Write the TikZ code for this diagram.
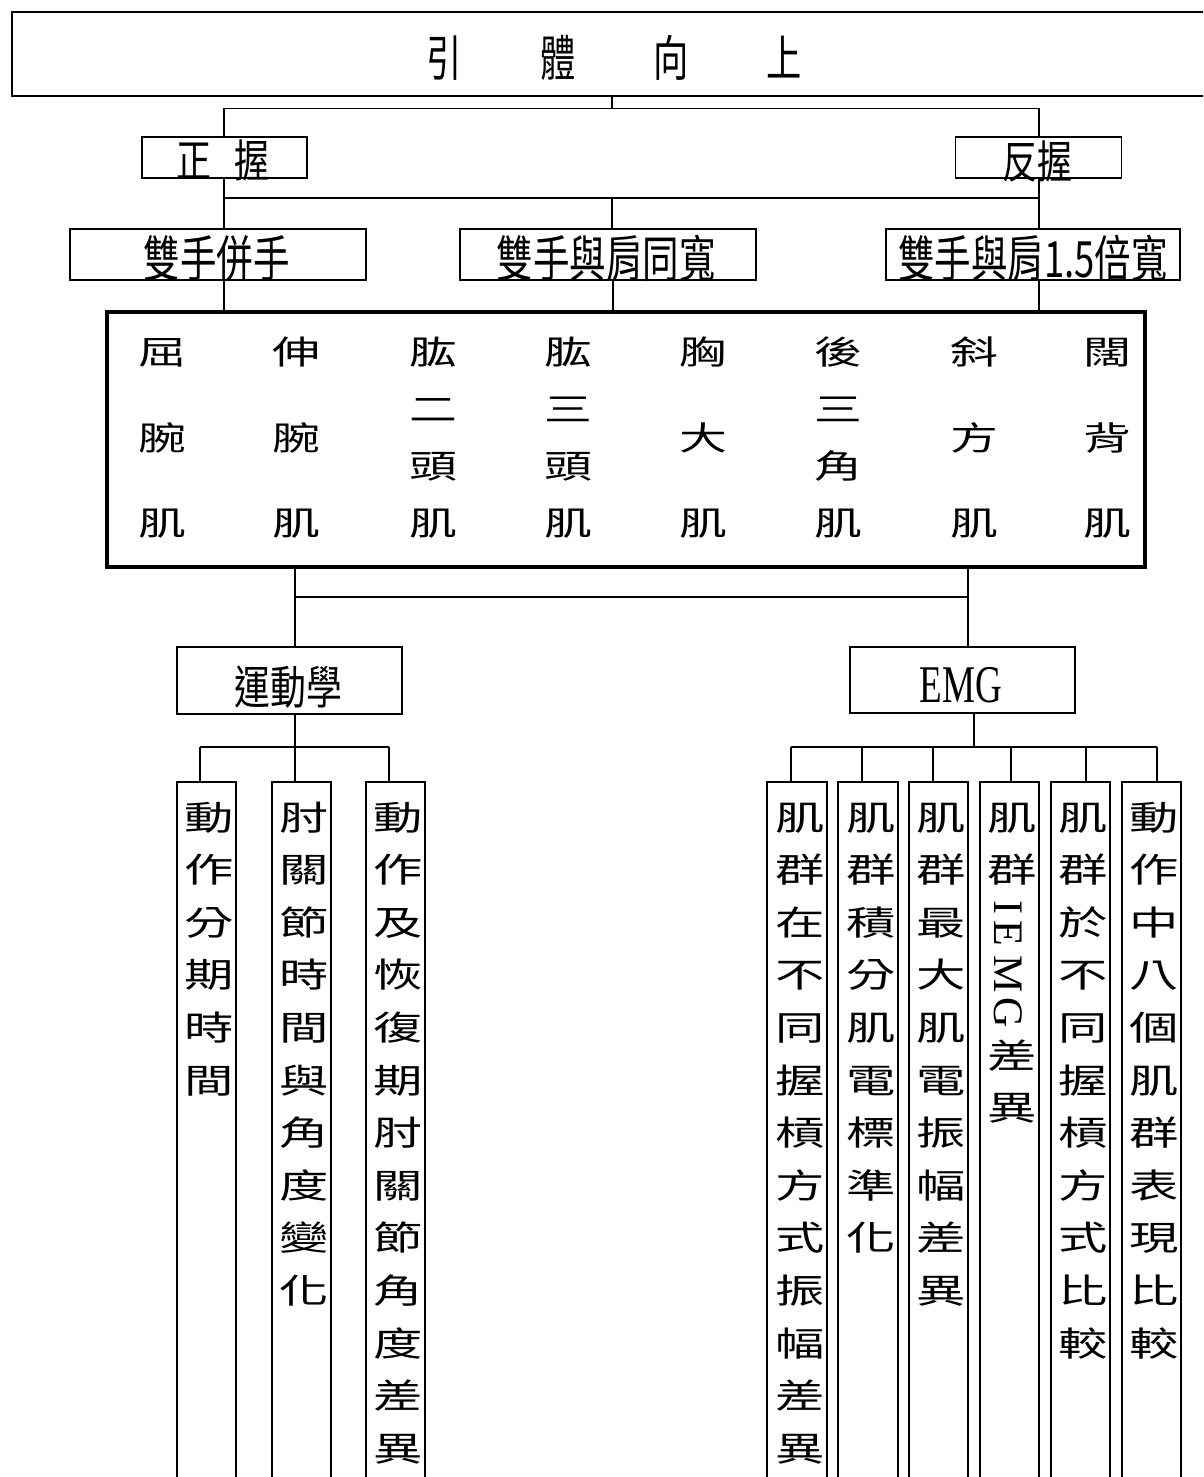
\documentclass[tikz,border=0pt]{standalone}
\usepackage{fontspec}
\usepackage{graphicx}
\setmainfont{Liberation Serif}
\newfontfamily\cjk{Noto Sans CJK TC}
\newcommand\hx[2]{\scalebox{#1}[1]{#2}}
% #1 font size, #2 pitch, #3 xscale, #4 rows
\newcommand\vstack[4]{\scalebox{#3}[1]{\fontsize{#1}{#2}\selectfont\cjk\begin{tabular}[t]{@{}c@{}}#4\end{tabular}}}
\begin{document}
\begin{tikzpicture}[x=1pt,y=-1pt,
  box/.style={draw, line width=1.8pt, fill=white, inner sep=0pt},
  tallbox/.style={box, anchor=north, minimum width=59, minimum height=720},
  conn/.style={line width=1.6pt},
  txt/.style={inner sep=0pt, anchor=base},
  lvl/.style={txt, font=\fontsize{50}{50}\selectfont\cjk},
  grip/.style={txt, font=\fontsize{45}{45}\selectfont\cjk},
  muscle/.style={txt},
  tallt/.style={txt},
]
\useasboundingbox (0,0) rectangle (1203,1477);
\clip (0,0) rectangle (1203,1477);

% ---- title
\node[box, minimum width=1204, minimum height=84] (title) at (614,54) {};
\node[txt] (titlet) at (614.5,77) {\fontsize{49}{49}\selectfont\cjk\hx{0.72}{引}\hspace{78pt}\hx{0.72}{體}\hspace{78pt}\hx{0.72}{向}\hspace{78pt}\hx{0.72}{上}};

% ---- grips
\node[box, minimum width=165, minimum height=41] (zw) at (224.5,157.5) {};
\node[grip] (zwt) at (223,177) {\hx{0.78}{正}\hspace{23pt}\hx{0.78}{握}};
\node[box, minimum width=166, minimum height=41] (fw) at (1038.5,157.5) {};
\node[grip] (fwt) at (1037.5,178) {\hx{0.78}{反握}};

% ---- widths
\node[box, minimum width=296, minimum height=51] (b1) at (218,254.5) {};
\node[lvl] (b1t) at (216.5,277.5) {\hx{0.73}{雙手併手}};
\node[box, minimum width=296, minimum height=51] (b2) at (608,254.5) {};
\node[lvl] (b2t) at (606,277) {\hx{0.73}{雙手與肩同寬}};
\node[box, minimum width=294, minimum height=51] (b3) at (1033,254.5) {};
\node[lvl] (b3t) at (1033,277.5) {\hx{0.73}{雙手與肩1.5倍寬}};

% ---- muscles
\node[draw, line width=4pt, fill=white, inner sep=0pt, minimum width=1038, minimum height=255] (main) at (625.5,439.5) {};
\node[muscle] (m1) at (162,364.5) {\vstack{33}{85.5}{1.45}{屈\\腕\\肌}};
\node[muscle] (m2) at (296,364.5) {\vstack{33}{85.5}{1.45}{伸\\腕\\肌}};
\node[muscle] (m3) at (433,364.5) {\vstack{33}{57}{1.45}{肱\\二\\頭\\肌}};
\node[muscle] (m4) at (568,364.5) {\vstack{33}{57}{1.45}{肱\\三\\頭\\肌}};
\node[muscle] (m5) at (703,364.5) {\vstack{33}{85.5}{1.45}{胸\\大\\肌}};
\node[muscle] (m6) at (838,364.5) {\vstack{33}{57}{1.45}{後\\三\\角\\肌}};
\node[muscle] (m7) at (974,364.5) {\vstack{33}{85.5}{1.45}{斜\\方\\肌}};
\node[muscle] (m8) at (1107,364.5) {\vstack{33}{85.5}{1.45}{闊\\背\\肌}};

% ---- analysis
\node[box, minimum width=225, minimum height=67] (kin) at (289.5,680.5) {};
\node[txt] (kint) at (288.5,704) {\fontsize{46}{46}\selectfont\cjk\hx{0.78}{運動學}};
\node[box, minimum width=225, minimum height=66] (emg) at (962.5,680) {};
\node[inner sep=0pt] (emgt) at (961,685) {\fontsize{53}{53}\selectfont\hx{0.7}{EMG}};

% ---- kinematics items
\node[tallbox] (k1) at (206.5,781) {};
\node[tallbox] (k2) at (301.5,781) {};
\node[tallbox] (k3) at (395.5,781) {};
\node[tallt] (k1t) at (209.5,830) {\vstack{34}{52.6}{1.45}{動\\作\\分\\期\\時\\間}};
\node[tallt] (k2t) at (304.5,830) {\vstack{34}{52.6}{1.45}{肘\\關\\節\\時\\間\\與\\角\\度\\變\\化}};
\node[tallt] (k3t) at (398.5,830) {\vstack{34}{52.6}{1.45}{動\\作\\及\\恢\\復\\期\\肘\\關\\節\\角\\度\\差\\異}};

% ---- EMG items
\node[tallbox, minimum width=60] (e1) at (797,781) {};
\node[tallbox, minimum width=60] (e2) at (868,781) {};
\node[tallbox] (e3) at (938.5,781) {};
\node[tallbox] (e4) at (1009.5,781) {};
\node[tallbox] (e5) at (1080.5,781) {};
\node[tallbox] (e6) at (1151.5,781) {};
\node[tallt] (e1t) at (800,830) {\vstack{34}{52.6}{1.45}{肌\\群\\在\\不\\同\\握\\槓\\方\\式\\振\\幅\\差\\異}};
\node[tallt] (e2t) at (871,830) {\vstack{34}{52.6}{1.45}{肌\\群\\積\\分\\肌\\電\\標\\準\\化}};
\node[tallt] (e3t) at (941.5,830) {\vstack{34}{52.6}{1.45}{肌\\群\\最\\大\\肌\\電\\振\\幅\\差\\異}};
\node[tallt] (e4t) at (1012.5,830) {\vstack{34}{52.6}{1.45}{肌\\群}};
\node[inner sep=0pt, rotate=-90] (e4r) at (1008,964) {\fontsize{42}{42}\selectfont I\kern6pt E\kern10pt M\kern4pt G};
\node[tallt] (e4u) at (1012.5,1068) {\vstack{34}{52.6}{1.45}{差\\異}};
\node[tallt] (e5t) at (1083.5,830) {\vstack{34}{52.6}{1.45}{肌\\群\\於\\不\\同\\握\\槓\\方\\式\\比\\較}};
\node[tallt] (e6t) at (1154.5,830) {\vstack{34}{52.6}{1.45}{動\\作\\中\\八\\個\\肌\\群\\表\\現\\比\\較}};

% ---- connectors: title -> grips
\coordinate (j0) at (612,108.5);
\coordinate (jL) at (224,108.5);
\coordinate (jR) at (1039,108.5);
\draw[conn] (title.south -| j0) -- (j0);
\draw[conn] (jL) -- (jR);
\draw[conn] (jL) -- (jL |- zw.north);
\draw[conn] (jR) -- (jR |- fw.north);
% grips -> widths
\coordinate (kL) at (224,198);
\coordinate (kR) at (1039,198);
\coordinate (k0) at (612,198);
\draw[conn] (zw.south -| kL) -- (kL |- b1.north);
\draw[conn] (fw.south -| kR) -- (kR |- b3.north);
\draw[conn] (kL) -- (kR);
\draw[conn] (k0) -- (k0 |- b2.north);
% widths -> muscles
\coordinate (c2) at (613,300);
\draw[conn] (b1.south -| kL) -- (kL |- main.north);
\draw[conn] (b2.south -| c2) -- (c2 |- main.north);
\draw[conn] (b3.south -| kR) -- (kR |- main.north);
% muscles -> analysis
\coordinate (p1) at (295,597);
\coordinate (p2) at (968,597);
\draw[conn] (p1 |- main.south) -- (p1 |- kin.north);
\draw[conn] (p2 |- main.south) -- (p2 |- emg.north);
\draw[conn] (p1) -- (p2);
% kinematics -> items
\coordinate (q) at (295,747);
\coordinate (qa) at (200,747);
\coordinate (qc) at (389,747);
\draw[conn] (q |- kin.south) -- (q);
\draw[conn] (qa) -- (qc);
\draw[conn] (qa) -- (qa |- k1.north);
\draw[conn] (q) -- (q |- k2.north);
\draw[conn] (qc) -- (qc |- k3.north);
% EMG -> items
\coordinate (r) at (974,747);
\coordinate (r1) at (791,747);
\coordinate (r2) at (862,747);
\coordinate (r3) at (933,747);
\coordinate (r4) at (1011,747);
\coordinate (r5) at (1086,747);
\coordinate (r6) at (1157,747);
\draw[conn] (r |- emg.south) -- (r);
\draw[conn] (r1) -- (r6);
\draw[conn] (r1) -- (r1 |- e1.north);
\draw[conn] (r2) -- (r2 |- e2.north);
\draw[conn] (r3) -- (r3 |- e3.north);
\draw[conn] (r4) -- (r4 |- e4.north);
\draw[conn] (r5) -- (r5 |- e5.north);
\draw[conn] (r6) -- (r6 |- e6.north);
\end{tikzpicture}
\end{document}
